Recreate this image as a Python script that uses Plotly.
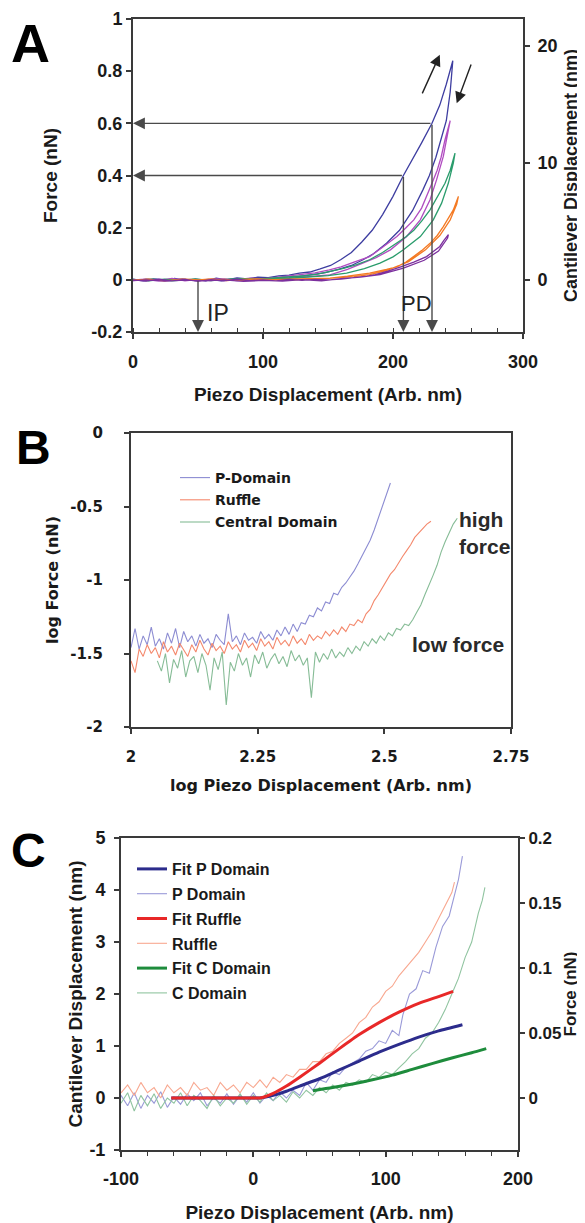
import plotly.graph_objects as go

FONT = "Liberation Sans"
FONT_B = "DejaVu Sans"
AXC = "#3a3a3a"

# ---------------- Panel A data (Piezo displacement vs force, loops) ----------------
a_blue_x = [0, 8, 16, 24, 32, 40, 48, 56, 64, 72, 80, 88, 96, 104, 112, 120, 128, 136, 144, 152, 160, 168, 176, 184, 192, 200, 208, 215, 222, 230, 236, 241, 246,
            244, 241, 237, 233, 228, 223, 215, 205, 195, 185, 177, 168, 158, 148, 138, 128, 118, 108, 98, 88, 78, 68, 58, 48, 38, 28, 18, 8, 0]
a_blue_y = [0.003, -0.004, 0.004, -0.003, 0.005, -0.002, 0.003, -0.004, 0.006, 0.000, 0.007, 0.004, 0.010, 0.008, 0.015, 0.018, 0.026, 0.030, 0.042, 0.055, 0.078, 0.105, 0.145, 0.190, 0.250, 0.320, 0.400, 0.460, 0.525, 0.600, 0.670, 0.750, 0.840,
            0.720, 0.610, 0.540, 0.470, 0.400, 0.345, 0.265, 0.190, 0.140, 0.100, 0.077, 0.055, 0.040, 0.028, 0.020, 0.013, 0.010, 0.004, 0.006, -0.001, 0.003, -0.004, 0.002, -0.003, 0.004, -0.002, 0.003, -0.004, 0.001]

a_mag_x = [0, 10, 20, 30, 40, 50, 60, 70, 80, 90, 100, 110, 120, 130, 140, 151, 160, 170, 182, 192, 203, 210, 216, 222, 226, 230, 234, 237, 240, 244,
           242.6, 238.7, 233.5, 228.5, 221, 210.5, 198, 187, 177, 165, 151.5, 140, 125, 110, 95, 80, 65, 50, 35, 20, 5]
a_mag_y = [-0.003, 0.004, -0.002, 0.005, -0.004, 0.002, -0.003, 0.004, 0.001, 0.006, 0.004, 0.010, 0.014, 0.020, 0.027, 0.038, 0.050, 0.068, 0.089, 0.125, 0.166, 0.200, 0.230, 0.275, 0.320, 0.370, 0.420, 0.470, 0.537, 0.610,
           0.575, 0.473, 0.383, 0.307, 0.230, 0.166, 0.115, 0.085, 0.064, 0.040, 0.019, 0.014, 0.008, 0.005, 0.002, -0.003, 0.004, -0.002, 0.003, -0.004, 0.002]

a_grn_x = [0, 12, 24, 36, 48, 60, 72, 84, 96, 108, 120, 132, 142, 151.5, 162, 172, 182, 192, 203, 210, 216, 222, 228.5, 232, 236, 240, 244, 247.7,
           246.4, 242.6, 237.4, 231, 221, 208, 200, 190, 178, 164.3, 150, 135, 120, 105, 90, 75, 60, 45, 30, 15, 0]
a_grn_y = [0.002, -0.004, 0.003, -0.002, 0.004, -0.003, 0.002, 0.005, 0.003, 0.007, 0.010, 0.016, 0.022, 0.032, 0.044, 0.058, 0.077, 0.105, 0.140, 0.165, 0.190, 0.225, 0.268, 0.300, 0.332, 0.370, 0.420, 0.486,
           0.447, 0.371, 0.294, 0.230, 0.166, 0.115, 0.088, 0.064, 0.043, 0.026, 0.016, 0.010, 0.006, 0.003, -0.002, 0.003, -0.003, 0.002, -0.004, 0.003, -0.001]

a_org_x = [0, 12, 24, 36, 48, 60, 72, 84, 96, 108, 120, 132, 142, 151.5, 165, 182, 195, 203, 210, 216, 222, 228.5, 234, 238.7, 242, 246.4, 250.3,
           249, 244, 236, 225, 212, 195, 182, 170, 158, 145, 130, 115, 100, 85, 70, 55, 40, 25, 10, 0]
a_org_y = [-0.002, 0.003, -0.004, 0.002, -0.001, 0.004, -0.003, 0.002, 0.004, 0.001, 0.003, 0.005, 0.004, 0.006, 0.014, 0.026, 0.040, 0.050, 0.068, 0.089, 0.112, 0.140, 0.170, 0.204, 0.230, 0.268, 0.320,
           0.290, 0.230, 0.170, 0.115, 0.070, 0.035, 0.020, 0.012, 0.008, 0.004, 0.002, -0.002, 0.003, -0.003, 0.002, -0.001, 0.003, -0.003, 0.002, 0.000]

a_pur_x = [0, 10, 20, 30, 40, 50, 60, 70, 80, 90, 100, 110, 120, 130, 140, 150, 160, 170, 180, 186.4, 196, 206, 216, 225.8, 231, 236, 239, 242.6,
           242, 235, 224, 208, 190, 175, 160, 145, 130, 115, 100, 85, 70, 55, 40, 25, 10, 0]
a_pur_y = [0.000, -0.005, 0.003, -0.004, 0.002, -0.006, 0.001, -0.004, 0.003, -0.003, 0.000, -0.004, 0.002, -0.002, 0.002, 0.000, 0.003, 0.008, 0.014, 0.020, 0.033, 0.050, 0.068, 0.089, 0.108, 0.128, 0.150, 0.173,
           0.160, 0.110, 0.075, 0.045, 0.020, 0.010, 0.005, -0.004, 0.001, -0.005, -0.002, -0.006, 0.000, -0.004, -0.001, -0.005, 0.000, -0.003]

a_series = [
    ("blue", a_blue_x, a_blue_y, "#3d3da0"),
    ("magenta", a_mag_x, a_mag_y, "#b04cc0"),
    ("green", a_grn_x, a_grn_y, "#2a9c6c"),
    ("orange", a_org_x, a_org_y, "#f47a24"),
    ("purple", a_pur_x, a_pur_y, "#7c309e"),
]
a_x_ticks = [0, 100, 200, 300]
a_y_ticks = [-0.2, 0, 0.2, 0.4, 0.6, 0.8, 1]
a_y_text = ["-0.2", "0", "0.2", "0.4", "0.6", "0.8", "1"]
a_y2_ticks = [0, 10, 20]

# marker arrows in panel A (x, y) pairs
a_force_marks = [(230, 0.6), (208, 0.4)]
a_ip_x = 50

# ---------------- Panel B data (log-log) ----------------
b_p_x = [2.000, 2.008, 2.016, 2.024, 2.032, 2.040, 2.048, 2.056, 2.064, 2.072, 2.080, 2.088, 2.096, 2.104, 2.112, 2.120, 2.128, 2.136, 2.144, 2.152,
         2.160, 2.168, 2.176, 2.184, 2.192, 2.200, 2.208, 2.216, 2.224, 2.232, 2.240, 2.248, 2.256, 2.264, 2.272, 2.280, 2.288, 2.296, 2.304, 2.312,
         2.320, 2.328, 2.336, 2.344, 2.352, 2.360, 2.368, 2.376, 2.384, 2.392, 2.400, 2.408, 2.416, 2.424, 2.432, 2.440, 2.448, 2.456, 2.464, 2.472,
         2.480, 2.488, 2.496, 2.504, 2.512]
b_p_y = [-1.46, -1.33, -1.47, -1.38, -1.44, -1.32, -1.45, -1.40, -1.47, -1.36, -1.43, -1.33, -1.46, -1.35, -1.42, -1.38, -1.45, -1.37, -1.43, -1.40,
         -1.46, -1.37, -1.41, -1.44, -1.23, -1.42, -1.38, -1.44, -1.36, -1.41, -1.39, -1.43, -1.35, -1.40, -1.37, -1.41, -1.34, -1.38, -1.32, -1.37,
         -1.30, -1.35, -1.29, -1.30, -1.24, -1.25, -1.19, -1.21, -1.15, -1.16, -1.09, -1.10, -1.05, -1.02, -0.98, -0.94, -0.89, -0.84, -0.79, -0.73,
         -0.66, -0.58, -0.50, -0.42, -0.34]

b_r_x = [2.000, 2.008, 2.016, 2.024, 2.032, 2.040, 2.048, 2.056, 2.064, 2.072, 2.080, 2.088, 2.096, 2.104, 2.112, 2.120, 2.128, 2.136, 2.144, 2.152,
         2.160, 2.168, 2.176, 2.184, 2.192, 2.200, 2.208, 2.216, 2.224, 2.232, 2.240, 2.248, 2.256, 2.264, 2.272, 2.280, 2.288, 2.296, 2.304, 2.312,
         2.320, 2.328, 2.336, 2.344, 2.352, 2.360, 2.368, 2.376, 2.384, 2.392, 2.400, 2.408, 2.416, 2.424, 2.432, 2.440, 2.448, 2.456, 2.464, 2.472,
         2.480, 2.488, 2.496, 2.504, 2.512, 2.520, 2.528, 2.536, 2.544, 2.552, 2.560, 2.568, 2.576, 2.584, 2.592]
b_r_y = [-1.55, -1.63, -1.47, -1.52, -1.44, -1.50, -1.46, -1.53, -1.42, -1.49, -1.45, -1.51, -1.43, -1.48, -1.52, -1.44, -1.49, -1.41, -1.47, -1.51,
         -1.43, -1.48, -1.45, -1.50, -1.42, -1.47, -1.44, -1.49, -1.41, -1.46, -1.43, -1.48, -1.40, -1.45, -1.42, -1.47, -1.39, -1.44, -1.41, -1.45,
         -1.38, -1.43, -1.40, -1.44, -1.37, -1.41, -1.38, -1.40, -1.35, -1.38, -1.34, -1.37, -1.32, -1.35, -1.30, -1.31, -1.27, -1.29, -1.23, -1.20,
         -1.14, -1.10, -1.05, -1.01, -0.96, -0.93, -0.88, -0.84, -0.80, -0.76, -0.71, -0.68, -0.65, -0.62, -0.60]

b_c_x = [2.052, 2.060, 2.068, 2.076, 2.084, 2.092, 2.100, 2.108, 2.116, 2.124, 2.132, 2.140, 2.148, 2.156, 2.164, 2.172, 2.180, 2.188, 2.196, 2.204,
         2.212, 2.220, 2.228, 2.236, 2.244, 2.252, 2.260, 2.268, 2.276, 2.284, 2.292, 2.300, 2.308, 2.316, 2.324, 2.332, 2.340, 2.348, 2.356, 2.364,
         2.372, 2.380, 2.388, 2.396, 2.404, 2.412, 2.420, 2.428, 2.436, 2.444, 2.452, 2.460, 2.468, 2.476, 2.484, 2.492, 2.500, 2.508, 2.516, 2.524,
         2.532, 2.540, 2.548, 2.556, 2.564, 2.572, 2.580, 2.588, 2.596, 2.604, 2.612, 2.620, 2.628, 2.636, 2.644]
b_c_y = [-1.55, -1.62, -1.50, -1.70, -1.54, -1.60, -1.48, -1.66, -1.55, -1.52, -1.63, -1.50, -1.58, -1.75, -1.53, -1.61, -1.49, -1.85, -1.56, -1.62,
         -1.50, -1.58, -1.53, -1.66, -1.51, -1.57, -1.49, -1.60, -1.54, -1.50, -1.57, -1.52, -1.59, -1.48, -1.55, -1.51, -1.58, -1.53, -1.80, -1.49,
         -1.56, -1.50, -1.54, -1.47, -1.53, -1.49, -1.52, -1.46, -1.50, -1.45, -1.48, -1.42, -1.45, -1.40, -1.43, -1.38, -1.41, -1.36, -1.38, -1.33,
         -1.34, -1.30, -1.31, -1.27, -1.22, -1.17, -1.10, -1.04, -0.97, -0.90, -0.81, -0.74, -0.68, -0.62, -0.58]

b_series = [
    ("P-Domain", b_p_x, b_p_y, "#8c8cd2"),
    ("Ruffle", b_r_x, b_r_y, "#f4886c"),
    ("Central Domain", b_c_x, b_c_y, "#86bc96"),
]
b_x_ticks = [2, 2.25, 2.5, 2.75]
b_x_text = ["2", "2.25", "2.5", "2.75"]
b_y_ticks = [-2, -1.5, -1, -0.5, 0]
b_y_text = ["-2", "-1.5", "-1", "-0.5", "0"]

# ---------------- Panel C data ----------------
c_p_x = [-100, -95, -90, -85, -80, -75, -70, -65, -60, -55, -50, -45, -40, -35, -30, -25, -20, -15, -10, -5, 0, 5, 10, 15, 20, 25, 30, 35, 40, 45,
         50, 55, 60, 65, 70, 75, 80, 85, 90, 95, 100, 105, 110, 113, 118, 123, 128, 133, 138, 143, 148, 152, 155, 158]
c_p_y = [0.05, -0.15, 0.10, -0.20, 0.05, -0.10, 0.12, -0.18, 0.02, -0.12, 0.08, -0.05, 0.10, -0.15, 0.00, -0.10, 0.08, -0.12, 0.05, -0.08, 0.10, -0.10, 0.05, -0.05, 0.12, 0.00, 0.15, 0.05, 0.30, 0.15,
         0.35, 0.30, 0.50, 0.45, 0.60, 0.68, 0.75, 0.90, 0.95, 1.10, 1.05, 1.30, 1.20, 1.60, 2.00, 2.10, 2.45, 2.40, 2.90, 3.30, 3.50, 3.90, 4.20, 4.65]

c_r_x = [-100, -95, -90, -85, -80, -75, -70, -65, -60, -55, -50, -45, -40, -35, -30, -25, -20, -15, -10, -5, 0, 5, 10, 15, 20, 25, 30, 35, 40, 45,
         50, 55, 60, 65, 70, 75, 80, 85, 90, 95, 100, 105, 110, 115, 120, 125, 130, 135, 140, 145, 150, 152]
c_r_y = [0.10, 0.25, 0.05, 0.30, 0.10, 0.20, 0.00, 0.25, 0.10, 0.20, 0.05, 0.30, 0.15, 0.20, 0.05, 0.30, 0.15, 0.25, 0.10, 0.30, 0.20, 0.35, 0.20, 0.40, 0.30, 0.45, 0.40, 0.55, 0.55, 0.70,
         0.70, 0.85, 0.90, 1.05, 1.15, 1.25, 1.45, 1.55, 1.75, 1.85, 2.05, 2.15, 2.35, 2.50, 2.65, 2.80, 3.00, 3.20, 3.45, 3.70, 3.95, 4.15]

c_c_x = [-100, -95, -90, -85, -80, -75, -70, -65, -60, -55, -50, -45, -40, -35, -30, -25, -20, -15, -10, -5, 0, 5, 10, 15, 20, 25, 30, 35, 40, 45,
         50, 55, 60, 65, 70, 75, 80, 85, 90, 95, 100, 105, 110, 115, 120, 125, 130, 135, 140, 145, 150, 155, 160, 165, 170, 173, 175]
c_c_y = [-0.10, 0.10, -0.25, 0.05, -0.15, 0.08, -0.20, 0.00, -0.10, 0.10, -0.15, 0.05, -0.05, -0.20, 0.05, -0.15, 0.00, -0.10, 0.08, -0.12, 0.05, -0.08, 0.10, -0.05, 0.05, -0.08, 0.12, 0.00, 0.15, 0.05,
         0.20, 0.10, 0.25, 0.15, 0.30, 0.25, 0.35, 0.30, 0.45, 0.40, 0.50, 0.45, 0.58, 0.70, 0.85, 0.95, 1.15, 1.25, 1.45, 1.70, 2.00, 2.30, 2.70, 3.00, 3.55, 3.80, 4.05]

c_fp_x = [-62, -40, -20, 0, 5, 15, 25, 35, 50, 65, 80, 95, 110, 125, 140, 158]
c_fp_y = [0, 0, 0, 0, 0.0, 0.05, 0.13, 0.23, 0.37, 0.54, 0.71, 0.88, 1.03, 1.17, 1.29, 1.41]
c_fr_x = [-62, -40, -20, 0, 5, 15, 25, 35, 50, 65, 80, 95, 110, 125, 140, 151]
c_fr_y = [0, 0, 0, 0, 0.0, 0.09, 0.23, 0.40, 0.67, 0.95, 1.22, 1.45, 1.65, 1.82, 1.95, 2.05]
c_fc_x = [45, 60, 75, 90, 105, 120, 135, 150, 165, 176]
c_fc_y = [0.14, 0.20, 0.27, 0.35, 0.44, 0.55, 0.66, 0.77, 0.87, 0.95]

c_raw = [
    ("P Domain", c_p_x, c_p_y, "#9a9ad8", 2),
    ("Ruffle", c_r_x, c_r_y, "#f8a890", 4),
    ("C Domain", c_c_x, c_c_y, "#90c4a0", 6),
]
c_fit = [
    ("Fit P Domain", c_fp_x, c_fp_y, "#2c2c8c", 1),
    ("Fit Ruffle", c_fr_x, c_fr_y, "#e82828", 3),
    ("Fit C Domain", c_fc_x, c_fc_y, "#1e8c3c", 5),
]
c_x_ticks = [-100, 0, 100, 200]
c_x_text = ["-100", "0", "100", "200"]
c_y_ticks = [-1, 0, 1, 2, 3, 4, 5]
c_y_text = ["-1", "0", "1", "2", "3", "4", "5"]
c_y2_ticks = [0, 0.05, 0.1, 0.15, 0.2]
c_y2_text = ["0", "0.05", "0.1", "0.15", "0.2"]

# ---------------- layout helpers (page has an 8px body margin) ----------------
W, H, OFF = 577, 1215, 8


def dx(px):
    return (px - OFF) / W


def dy(py):
    return 1 - (py - OFF) / H


fig = go.Figure()

for name, xs, ys, col in a_series:
    fig.add_trace(go.Scatter(x=xs, y=ys, mode="lines", name=name, showlegend=False,
                             line=dict(color=col, width=1.3), xaxis="x", yaxis="y"))
# empty trace so the secondary (cantilever displacement) axis of panel A is drawn
fig.add_trace(go.Scatter(x=[None], y=[None], mode="lines", showlegend=False, hoverinfo="skip",
                         xaxis="x", yaxis="y2"))

for name, xs, ys, col in b_series:
    fig.add_trace(go.Scatter(x=xs, y=ys, mode="lines", name=name, legend="legend", legendgroup=name,
                             line=dict(color=col, width=1.1), xaxis="x2", yaxis="y3"))

for name, xs, ys, col, rank in c_raw:
    fig.add_trace(go.Scatter(x=xs, y=ys, mode="lines", name=name, legend="legend2", legendrank=rank, legendgroup=name,
                             line=dict(color=col, width=1.1), xaxis="x3", yaxis="y4"))
for name, xs, ys, col, rank in c_fit:
    fig.add_trace(go.Scatter(x=xs, y=ys, mode="lines", name=name, legend="legend2", legendrank=rank, legendgroup=name,
                             line=dict(color=col, width=3, shape="spline", smoothing=0.6), xaxis="x3", yaxis="y4"))
# empty trace so the secondary (force) axis of panel C is drawn
fig.add_trace(go.Scatter(x=[None], y=[None], mode="lines", showlegend=False, hoverinfo="skip",
                         xaxis="x3", yaxis="y5"))

tick_font = dict(family=FONT, size=18, color="#1a1a1a", weight="bold")
title_font = dict(family=FONT, size=19, color="#1a1a1a", weight="bold")
b_tick_font = dict(family=FONT_B, size=15, color="#1a1a1a", weight="bold")
b_title_font = dict(family=FONT_B, size=16, color="#1a1a1a", weight="bold")

common = dict(showgrid=False, zeroline=False, showline=True, linecolor=AXC, linewidth=2, automargin=False,
              ticks="outside", tickcolor=AXC, tickwidth=1.5, ticklen=5)

fig.update_layout(
    width=W, height=H, margin=dict(l=0, r=0, t=0, b=0),
    paper_bgcolor="white", plot_bgcolor="white",
    # ---- Panel A
    xaxis=dict(domain=[dx(133), dx(523)], range=[0, 300], anchor="y", mirror=True,
               tickvals=a_x_ticks, tickfont=tick_font, ticklabelstandoff=7,
               minor=dict(dtick=20, ticks="inside", ticklen=4, tickcolor=AXC, tickwidth=1.2),
               title=dict(text="Piezo Displacement (Arb. nm)", font=title_font, standoff=17), **common),
    yaxis=dict(domain=[dy(332), dy(19)], range=[-0.2, 1], anchor="x",
               tickvals=a_y_ticks, ticktext=a_y_text, tickfont=tick_font, ticklabelstandoff=0,
               title=dict(text="Force (nN)", font=title_font, standoff=29), **common),
    yaxis2=dict(overlaying="y", side="right", anchor="x", range=[-4.45, 22.3],
                tickvals=a_y2_ticks, tickfont=tick_font, ticklabelstandoff=4,
                title=dict(text="Cantilever Displacement (nm)", font=dict(family=FONT, size=18, color="#1a1a1a", weight="bold"), standoff=8),
                **common),
    # ---- Panel B
    xaxis2=dict(domain=[dx(131), dx(511)], range=[2, 2.75], anchor="y3", mirror=True,
                tickvals=b_x_ticks, ticktext=b_x_text, tickfont=b_tick_font, ticklabelstandoff=10,
                title=dict(text="log Piezo Displacement (Arb. nm)", font=b_title_font, standoff=15), **common),
    yaxis3=dict(domain=[dy(727), dy(433)], range=[-2, 0], anchor="x2", mirror=True,
                tickvals=b_y_ticks, ticktext=b_y_text, tickfont=b_tick_font, ticklabelstandoff=18,
                title=dict(text="log Force (nN)", font=b_title_font, standoff=8), **common),
    # ---- Panel C
    xaxis3=dict(domain=[dx(121), dx(518)], range=[-100, 200], anchor="y4", mirror=True,
                tickvals=c_x_ticks, ticktext=c_x_text, tickfont=tick_font, ticklabelstandoff=6,
                minor=dict(dtick=20, ticks="outside", ticklen=4, tickcolor=AXC, tickwidth=1.2),
                title=dict(text="Piezo Displacement (Arb. nm)", font=title_font, standoff=18), **common),
    yaxis4=dict(domain=[dy(1150), dy(838)], range=[-1, 5], anchor="x3",
                tickvals=c_y_ticks, ticktext=c_y_text, tickfont=tick_font, ticklabelstandoff=5,
                title=dict(text="Cantilever Displacement (nm)", font=title_font, standoff=2), **common),
    yaxis5=dict(overlaying="y4", side="right", anchor="x3", range=[-0.04, 0.2],
                tickvals=c_y2_ticks, ticktext=c_y2_text,
                tickfont=dict(family=FONT, size=17, color="#1a1a1a", weight="bold"), ticklabelstandoff=0,
                title=dict(text="Force (nN)", font=dict(family=FONT, size=17, color="#1a1a1a", weight="bold"), standoff=0),
                **common),
    legend=dict(x=dx(175), y=dy(462), xanchor="left", yanchor="top", bgcolor="rgba(0,0,0,0)",
                font=dict(family=FONT_B, size=14, color="#1a1a1a", weight="bold"), tracegroupgap=1),
    legend2=dict(x=dx(132), y=dy(852), xanchor="left", yanchor="top", bgcolor="rgba(0,0,0,0)",
                 font=dict(family=FONT, size=16, color="#1a1a1a", weight="bold"), tracegroupgap=1),
)

# ---- Panel A arrows
arrow_col = "#4a4a4a"
for xv, yv in a_force_marks:
    fig.add_annotation(x=0, y=yv, ax=xv, ay=yv, xref="x", yref="y", axref="x", ayref="y",
                       showarrow=True, arrowhead=2, arrowsize=1.7, arrowwidth=1.4, arrowcolor=arrow_col, text="")
    fig.add_annotation(x=xv, y=-0.2, ax=xv, ay=yv, xref="x", yref="y", axref="x", ayref="y",
                       showarrow=True, arrowhead=2, arrowsize=1.7, arrowwidth=1.4, arrowcolor=arrow_col, text="")
fig.add_annotation(x=a_ip_x, y=-0.2, ax=a_ip_x, ay=0, xref="x", yref="y", axref="x", ayref="y",
                   showarrow=True, arrowhead=2, arrowsize=1.7, arrowwidth=1.4, arrowcolor=arrow_col, text="")
fig.add_annotation(x=236, y=0.863, ax=222, ay=0.709, xref="x", yref="y", axref="x", ayref="y",
                   showarrow=True, arrowhead=2, arrowsize=1.6, arrowwidth=1.4, arrowcolor="#222", text="")
fig.add_annotation(x=249, y=0.677, ax=260.5, ay=0.831, xref="x", yref="y", axref="x", ayref="y",
                   showarrow=True, arrowhead=2, arrowsize=1.6, arrowwidth=1.4, arrowcolor="#222", text="")
fig.add_annotation(x=65, y=-0.128, xref="x", yref="y", text="IP", showarrow=False,
                   font=dict(family=FONT, size=23, color="#222"))
fig.add_annotation(x=218, y=-0.089, xref="x", yref="y", text="PD", showarrow=False,
                   font=dict(family=FONT, size=22, color="#222"))

# ---- Panel B labels
fig.add_annotation(x=2.643, y=-0.68, xref="x2", yref="y3", text="high<br>force", showarrow=False,
                   xanchor="left", align="left", font=dict(family=FONT, size=21, color="#2a2a2a", weight="bold"))
fig.add_annotation(x=2.551, y=-1.441, xref="x2", yref="y3", text="low force", showarrow=False,
                   xanchor="left", font=dict(family=FONT, size=21, color="#2a2a2a", weight="bold"))

# ---- Panel letters
for letter, px, py, sz in [("A", 30, 43, 54), ("B", 33, 447, 48), ("C", 28, 850, 48)]:
    fig.add_annotation(x=dx(px), y=dy(py), xref="paper", yref="paper", text=letter,
                       xanchor="center", yanchor="middle",
                       showarrow=False, font=dict(family=FONT, size=sz, color="#000", weight="bold"))

fig.write_html("out.html")
